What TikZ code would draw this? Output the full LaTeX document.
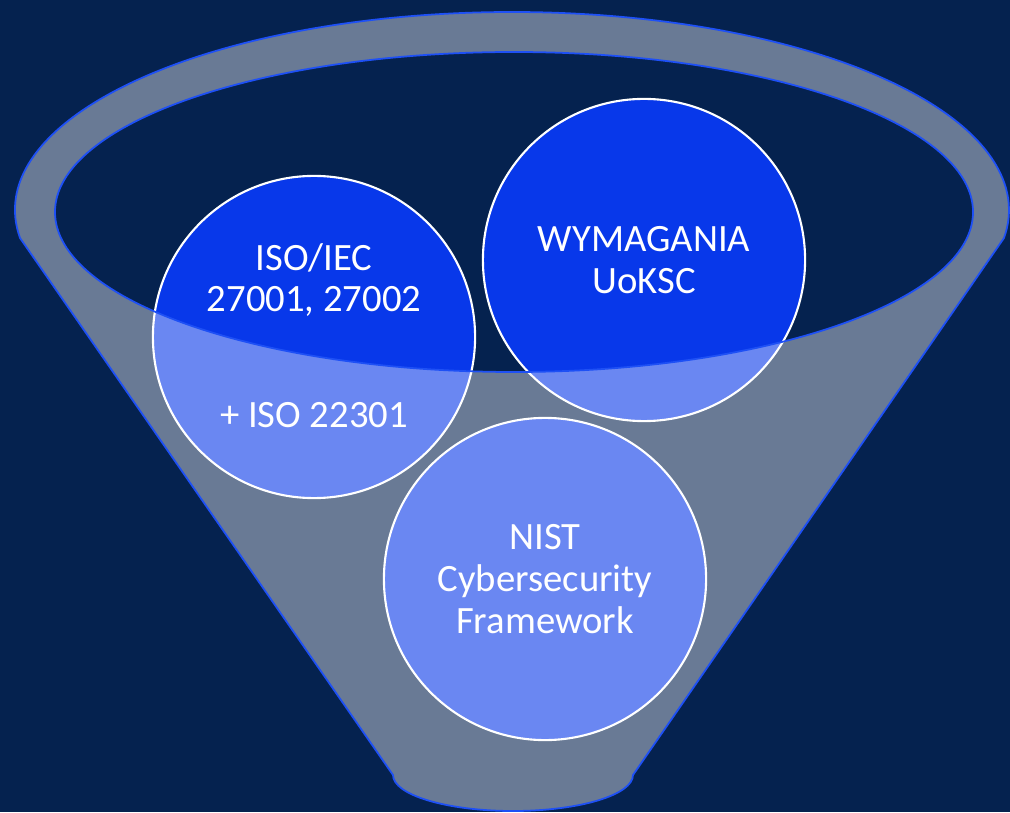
\documentclass[tikz,border=0pt]{standalone}
\usepackage{fontspec}
\setmainfont{Carlito}
\usepackage{xcolor}
\usepackage{tikz}
\usetikzlibrary{positioning}
\definecolor{bgnavy}{RGB}{5,34,79}
\definecolor{discblue}{RGB}{8,56,234}
\definecolor{rimblue}{RGB}{30,80,245}

\begin{document}
\begin{tikzpicture}[x=0.01cm,y=0.01cm,
    disc/.style={circle,fill=discblue,draw=white,line width=0.6pt,minimum size=3.22cm,inner sep=0pt},
    lbl/.style={text=white,align=center,inner sep=0pt,font=\fontsize{11pt}{11.9pt}\selectfont}]
  \useasboundingbox (0,0) rectangle (1010,812);
  \fill[bgnavy] (0,0) rectangle (1010,812);
  % the three discs
  \node[disc] (iso) at (314,475) {};
  \node[disc] (uoksc) at (644,552) {};
  \node[disc] (nist) at (545,233) {};
  % funnel, laid over the discs
  \filldraw[rimblue,line width=0.5pt,fill=white,fill opacity=0.4,even odd rule]
    (20,574) arc[start angle=188.13,end angle=-8.13,x radius=497,y radius=198]
    -- (633,37) arc[start angle=0,end angle=-180,x radius=120,y radius=36]
    -- cycle
    (514,600) ellipse[x radius=459,y radius=160];
  % labels
  \node[lbl] (isotxt) at (314,532) {ISO/IEC\\27001, 27002};
  \node[lbl] (isoplus) at (314,397) {+ ISO 22301};
  \node[lbl] (uoksctxt) at (uoksc.center) {WYMAGANIA\\UoKSC};
  \node[lbl] (nisttxt) at (nist.center) {NIST\\Cybersecurity\\Framework};
\end{tikzpicture}
\end{document}
